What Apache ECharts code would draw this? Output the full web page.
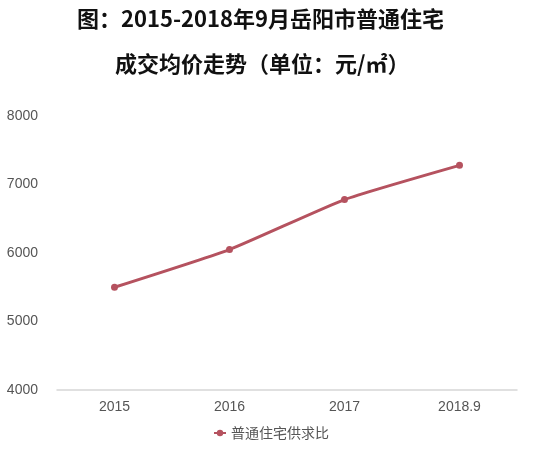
<!DOCTYPE html>
<html><head><meta charset="utf-8">
<script src="https://cdn.jsdelivr.net/npm/echarts@6/dist/echarts.min.js"></script>
<style>html,body{margin:0;padding:0;background:#fff}#c{width:542px;height:450px}</style>
</head><body><div id="c"></div>
<script>
const categories = ['2015', '2016', '2017', '2018.9'];
const prices = [5500, 6050, 6780, 7280];
const seriesName = '普通住宅供求比';
const titleLine1 = '图：2015-2018年9月岳阳市普通住宅';
const titleLine2 = '成交均价走势（单位：元/㎡）';

const chart = echarts.init(document.getElementById('c'));
chart.setOption({
  backgroundColor: '#fff',
  animation: false,
  title: [
    { text: titleLine1, left: 72, top: 3,
      textStyle: { fontFamily: 'Noto Sans CJK SC', fontWeight: 'bold', fontSize: 22, color: '#111' } },
    { text: titleLine2, left: 110, top: 48,
      textStyle: { fontFamily: 'Noto Sans CJK SC', fontWeight: 'bold', fontSize: 22, color: '#111' } }
  ],
  legend: {
    bottom: 5, left: 'center',
    itemWidth: 12, itemHeight: 8, itemGap: 10,
    textStyle: { fontFamily: 'Noto Sans CJK SC', fontSize: 14, color: '#555' },
    data: [seriesName]
  },
  grid: { left: 57, right: 25, top: 116, bottom: 60, containLabel: false, outerBoundsMode: 'none' },
  xAxis: {
    type: 'category', data: categories, boundaryGap: true,
    axisLine: { lineStyle: { color: '#d6d6d6', width: 1.5 } },
    axisTick: { show: false },
    axisLabel: { color: '#555', fontSize: 14, margin: 10, fontFamily: 'Liberation Sans' },
    splitLine: { show: false }
  },
  yAxis: {
    type: 'value', min: 4000, max: 8000, interval: 1000,
    axisLine: { show: false }, axisTick: { show: false },
    splitLine: { show: false },
    axisLabel: { color: '#555', fontSize: 14, margin: 19, fontFamily: 'Liberation Sans',
      formatter: v => String(v) }
  },
  series: [{
    name: seriesName, type: 'line', data: prices,
    smooth: 0.15, symbol: 'circle', symbolSize: 7,
    lineStyle: { color: '#b5525f', width: 3 },
    itemStyle: { color: '#b5525f' }
  }]
});
</script></body></html>
